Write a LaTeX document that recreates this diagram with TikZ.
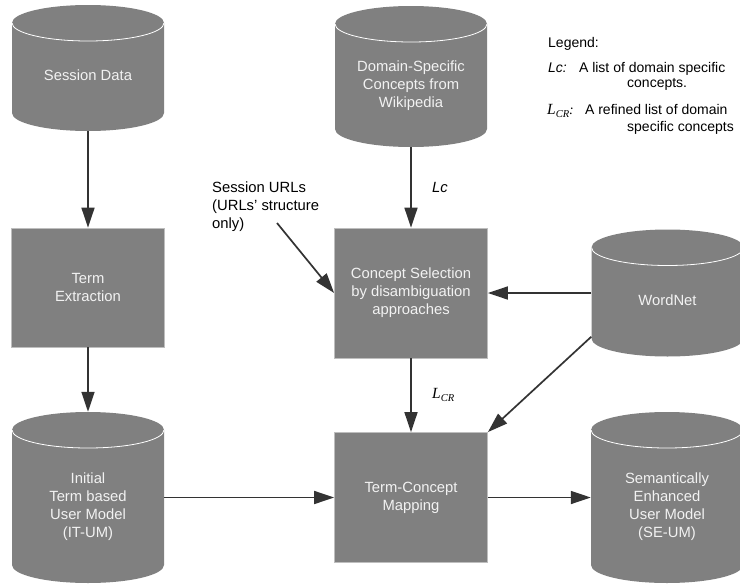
\documentclass[tikz,border=0pt]{standalone}
\usepackage{fontspec}
\setmainfont{Liberation Sans}
\newfontfamily\tnr{Liberation Serif}
\usepackage{tikz}
\usetikzlibrary{arrows.meta,positioning}
\definecolor{mygray}{RGB}{128,128,128}
\definecolor{mylight}{RGB}{242,242,242}
\definecolor{myedge}{RGB}{190,190,190}
\definecolor{myarrow}{RGB}{51,51,51}
\newcommand{\dbtext}[1]{\raisebox{-9pt}[\height][\depth]{\begin{tabular}{@{}c@{}}#1\end{tabular}}}
\newcommand{\LCR}{{\tnr\itshape\fontsize{15.5}{16}\selectfont L\raisebox{-3pt}{\fontsize{10.5}{11}\selectfont CR}}}

\begin{document}
\begin{tikzpicture}[x=1pt, y=-1pt,
  every node/.style={font=\fontsize{14.8}{18}\selectfont},
  db/.style={minimum width=152pt, inner sep=0pt, text=mylight,
    path picture={
      \fill[mygray] ([yshift=-18pt]path picture bounding box.north west)
        arc[start angle=180, end angle=0, x radius=76pt, y radius=18pt]
        -- ([yshift=18pt]path picture bounding box.south east)
        arc[start angle=0, end angle=-180, x radius=76pt, y radius=18pt] -- cycle;
      \draw[white, line width=0.8pt] ([yshift=-18pt]path picture bounding box.north west)
        arc[start angle=180, end angle=360, x radius=76pt, y radius=18pt];
    }},
  proc/.style={fill=mygray, draw=myedge, line width=0.8pt, minimum width=153pt, text=mylight, align=center},
  flow/.style={draw=myarrow, line width=1.7pt, -{Triangle[length=20pt, width=13pt]}},
  legend/.style={anchor=base west, inner sep=0pt, font=\fontsize{14}{17}\selectfont}]
        \useasboundingbox[fill=white] (0,0) rectangle (740,584);
        \node[db, minimum height=126pt] (SD) at (88,68) {\dbtext{Session Data}};
        \node[proc, minimum height=119pt] (TE) [below of=SD, node distance=219.5pt] {Term\\Extraction};
        \node[db, minimum height=171pt] (IT) [below of=TE, node distance=210pt] {\dbtext{Initial\\Term based\\User Model\\(IT-UM)}};
        \node[db, minimum height=141pt] (DC) at (411,76.5) {\dbtext{Domain-Specific\\Concepts from\\Wikipedia}};
        \node[proc, minimum height=130pt] (CS) [below of=DC, node distance=216.5pt] {Concept Selection\\by disambiguation\\approaches};
        \node[proc, minimum height=130pt] (TC) [right of=IT, node distance=323pt] {Term-Concept\\Mapping};
        \node[db, minimum height=127pt] (WN) [right of=CS, node distance=256.5pt] {\dbtext{WordNet}};
        \node[db, minimum height=171pt] (SE) [right of=TC, node distance=256pt] {\dbtext{Semantically\\Enhanced\\User Model\\(SE-UM)}};
        \node[anchor=north west, align=left, inner sep=0pt] (UR) at (212,182) {Session URLs\\(URLs' structure\\only)};
        \coordinate (URe) at (277,223);
        \node[legend] (LG) at (548,47) {Legend:};
        \node[legend] (L1) at (548,72) {\textit{Lc:}\hspace{7pt} A list of domain specific};
        \node[legend] (L1b) at (627,87) {concepts.};
        \node[legend] (L2) at (547,114) {\LCR{\tnr\itshape:}\hspace{6pt} A refined list of domain};
        \node[legend] (L2b) at (627,131) {specific concepts};
        \draw[flow] (SD) -- (TE);
        \draw[flow] (TE) -- (IT);
        \draw[flow] (DC) -- node[right=17pt] {\textit{Lc}} (CS);
        \draw[flow] (URe) -- (CS.west);
        \draw[flow] (WN.west) -- (CS.east |- WN.west);
        \draw[flow] (CS) -- node[right=17pt] {\LCR} (TC);
        \draw[flow] ([yshift=20pt]WN.south west) -- (TC.north east);
        \draw[flow] (IT) -- (TC);
        \draw[flow] (TC) -- (SE);
  \end{tikzpicture}
\end{document}
